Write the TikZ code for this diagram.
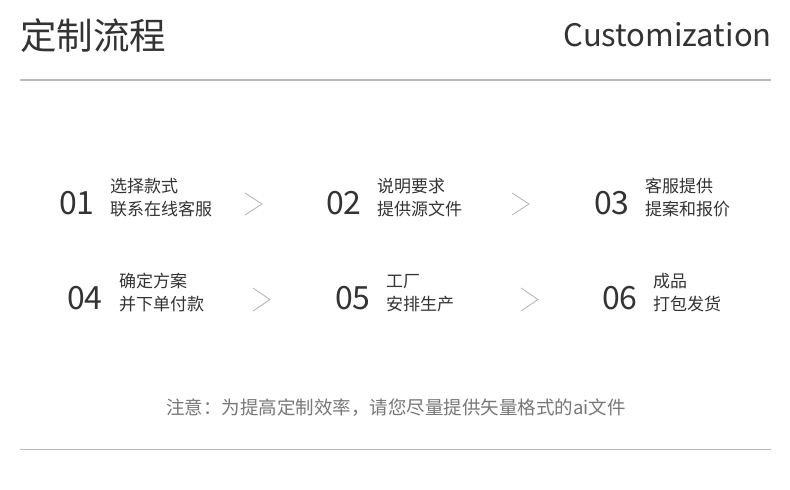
\documentclass[tikz,border=0pt]{standalone}
\usepackage{fontspec}
\setmainfont{Noto Sans CJK SC}
\definecolor{ink}{HTML}{333333}
\definecolor{rule}{HTML}{BBBBBB}
\definecolor{chev}{HTML}{B8B8B8}
\definecolor{note}{HTML}{777777}
\begin{document}
\begin{tikzpicture}[x=1pt,y=-1pt,
  title/.style={font=\fontsize{36.5}{38}\selectfont, text=ink, inner sep=0pt},
  num/.style={font=\fontsize{32}{34}\selectfont, text=ink, inner sep=0pt, anchor=west},
  desc/.style={font=\fontsize{17}{23}\selectfont, text=ink, inner sep=0pt, anchor=west, align=left},
  chevron/.style={draw=chev, line width=0.9pt},
  hrule/.style={draw=rule, line width=1.8pt}]
\useasboundingbox (0,0) rectangle (790,490);
\node[title, anchor=west] (t) at (20,36) {定制流程};
\node[title, anchor=east, font=\fontsize{31}{33}\selectfont] (c) at (772,35) {Customization};
\draw[hrule] (20,80) -- (771,80);
\draw[hrule] (20,449.5) -- (771,449.5);
% row 1
\node[num] (n1) at (59,203.5) {01};
\node[desc] (d1) at (110,197.5) {选择款式\\联系在线客服};
\node[num] (n2) at (326,203.5) {02};
\node[desc] (d2) at (377,197.5) {说明要求\\提供源文件};
\node[num] (n3) at (594,203.5) {03};
\node[desc] (d3) at (645,197.5) {客服提供\\提案和报价};
% row 2
\node[num] (n4) at (67,298.5) {04};
\node[desc] (d4) at (119,293) {确定方案\\并下单付款};
\node[num] (n5) at (335,298.5) {05};
\node[desc] (d5) at (386,293) {工厂\\安排生产};
\node[num] (n6) at (602,298.5) {06};
\node[desc] (d6) at (653,293) {成品\\打包发货};
% chevrons
\draw[chevron] (245,193) -- (262,204) -- (245,215);
\draw[chevron] (512,193) -- (529,204) -- (512,215);
\draw[chevron] (253,288) -- (270,299.5) -- (253,311);
\draw[chevron] (521,288) -- (538,299.5) -- (521,311);
% note
\node[font=\fontsize{18.5}{22}\selectfont, text=note, inner sep=0pt] (nt) at (396,408) {注意：为提高定制效率，请您尽量提供矢量格式的ai文件};
\end{tikzpicture}
\end{document}
